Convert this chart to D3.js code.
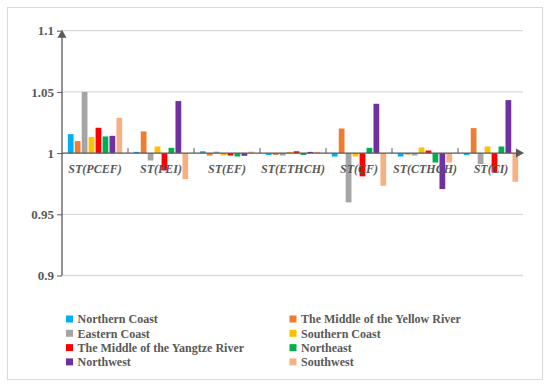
<!DOCTYPE html>
<html><head><meta charset="utf-8">
<script src="https://cdn.jsdelivr.net/npm/d3@7/dist/d3.min.js"></script>
<style>body{margin:0;background:#fff}svg{display:block}
svg text{font-family:"Liberation Serif","Times New Roman",serif;}</style>
</head><body><svg id="c" width="550" height="388"></svg>
<script>
const categories = ["ST(PCEF)","ST(PEI)","ST(EF)","ST(ETHCH)","ST(CF)","ST(CTHCH)","ST(CI)"];
const seriesNames = ["Northern Coast","The Middle of the Yellow River","Eastern Coast","Southern Coast","The Middle of the Yangtze River","Northeast","Northwest","Southwest"];
const seriesColors = ["#00B0F0","#ED7D31","#A5A5A5","#FFC000","#FF0000","#00B050","#7030A0","#F4B183"];
const northernCoast   = [1.0155, 1.001, 1.0015, 0.9985, 0.9972, 0.9972, 0.9985];
const yellowRiver     = [1.0098, 1.0177, 0.998, 0.9985, 1.0201, 0.9988, 1.0204];
const easternCoast    = [1.050, 0.994, 1.0012, 0.998, 0.9597, 0.998, 0.991];
const southernCoast   = [1.0131, 1.0054, 0.998, 1.001, 0.9972, 1.0046, 1.0054];
const yangtzeRiver    = [1.0207, 0.9858, 0.998, 1.0015, 0.981, 1.0021, 0.9842];
const northeast       = [1.0136, 1.0043, 0.9972, 0.9985, 1.0043, 0.9923, 1.0054];
const northwest       = [1.0141, 1.0425, 0.9978, 1.001, 1.0403, 0.9706, 1.0433];
const southwest       = [1.0288, 0.9788, 1.0012, 1.001, 0.9733, 0.9923, 0.9766];
const seriesValues = [northernCoast, yellowRiver, easternCoast, southernCoast, yangtzeRiver, northeast, northwest, southwest];
const yTicks = [0.9, 0.95, 1, 1.05, 1.1];
const yTickLabels = ["0.9","0.95","1","1.05","1.1"];

const svg = d3.select("#c");
const gray = "#595959";

svg.append("rect").attr("x",7.5).attr("y",7.5).attr("width",535).attr("height",372)
  .attr("fill","#fff").attr("stroke","#d9d9d9").attr("stroke-width",1);

const y = d3.scaleLinear().domain([0.9,1.1]).range([275.5,30.7]);
const x0 = d3.scaleBand().domain(categories).range([62,524]).paddingInner(0.176).paddingOuter(0.088);
const x1 = d3.scaleBand().domain(seriesNames).range([0,x0.bandwidth()]).paddingInner(0.17);
const xLeft = 62, xRight = 524;

// gridlines
svg.append("g").selectAll("line").data(yTicks.filter(v=>v!==1)).join("line")
  .attr("x1",xLeft).attr("x2",xRight-1).attr("y1",d=>y(d)).attr("y2",d=>y(d))
  .attr("stroke","#d9d9d9").attr("stroke-width",1.3);

// bars
const base = y(1);
const g = svg.append("g");
categories.forEach((c,ci)=>{
  seriesNames.forEach((s,si)=>{
    const v = seriesValues[si][ci];
    g.append("rect")
      .attr("x", x0(c)+x1(s))
      .attr("width", x1.bandwidth())
      .attr("y", Math.min(y(v), base))
      .attr("height", Math.abs(y(v)-base))
      .attr("fill", seriesColors[si]);
  });
});

// y axis
const yAxis = d3.axisLeft(y).tickValues(yTicks).tickFormat((d,i)=>yTickLabels[i]).tickSize(5).tickPadding(3);
const ya = svg.append("g").attr("transform",`translate(${xLeft},0)`).call(yAxis);
ya.attr("font-family",null).attr("font-size",null);
ya.select(".domain").remove();
ya.selectAll("line").attr("stroke",gray);
ya.selectAll("text").attr("fill",gray).style("font-size","13px").attr("font-weight","bold");
svg.append("line").attr("x1",xLeft).attr("x2",xLeft).attr("y1",y(0.9)).attr("y2",y(1.1)+6)
  .attr("stroke",gray).attr("stroke-width",1.3);
svg.append("path").attr("d",`M${xLeft},${y(1.1)-1} L${xLeft-4.5},${y(1.1)+7} L${xLeft+4.5},${y(1.1)+7} Z`).attr("fill",gray);

// x axis at 1
svg.append("line").attr("x1",xLeft).attr("x2",xRight-7).attr("y1",base).attr("y2",base)
  .attr("stroke",gray).attr("stroke-width",1.3);
svg.append("path").attr("d",`M${xRight},${base} L${xRight-8},${base-4.5} L${xRight-8},${base+4.5} Z`).attr("fill",gray);
// group ticks
const bounds = categories.slice(1).map(c=>x0(c)-x0.step()*x0.paddingInner()/2);
svg.append("g").selectAll("line").data(bounds).join("line")
  .attr("x1",d=>d).attr("x2",d=>d).attr("y1",base-5).attr("y2",base)
  .attr("stroke",gray).attr("stroke-width",1);

// category labels
svg.append("g").selectAll("text").data(categories).join("text")
  .attr("x",d=>x0(d)+x0.bandwidth()/2).attr("y",base+20)
  .attr("text-anchor","middle").attr("fill",gray)
  .style("font-size","12px").attr("font-weight","bold").attr("font-style","italic")
  .text(d=>d);

// legend
const lg = svg.append("g");
seriesNames.forEach((s,i)=>{
  const col = i%2, row = Math.floor(i/2);
  const lx = col===0 ? 66 : 289.5;
  const ly = 319 + row*14.3;
  lg.append("rect").attr("x",lx).attr("y",ly-3.5).attr("width",7).attr("height",7).attr("fill",seriesColors[i]);
  lg.append("text").attr("x",lx+11.5).attr("y",ly+4.3).attr("fill",gray)
    .style("font-size","12px").attr("font-weight","bold").text(s);
});
</script></body></html>
